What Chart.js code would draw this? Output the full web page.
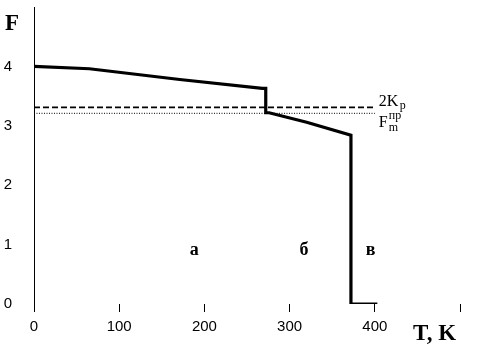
<!DOCTYPE html>
<html>
<head>
<meta charset="utf-8">
<script src="https://cdn.jsdelivr.net/npm/chart.js@4/dist/chart.umd.min.js"></script>
<style>
  html, body { margin:0; padding:0; background:#fff; }
  #wrap { width:481px; height:358px; position:relative; }
</style>
</head>
<body>
<div id="wrap"><canvas id="chart"></canvas></div>
<script>
// main curve F(T)
const tempT  = [0, 65, 171, 268, 272, 272, 276, 320, 372, 372, 403];
const valueF = [4.0, 3.96, 3.78, 3.63, 3.63, 3.22, 3.22, 3.06, 2.84, 0, 0];

// reference levels
const levelT  = [0, 400];
const level2K = [3.31, 3.31];
const levelFm = [3.21, 3.21];

const xTicks = [0, 100, 200, 300, 400, 500];
const regionLabels = [
  { text:'а', x:188, y:0.9 },
  { text:'б', x:317, y:0.9 },
  { text:'в', x:395, y:0.9 }
];

const serif = '"Liberation Serif", "DejaVu Serif", serif';
const sans  = '"Liberation Sans", Arial, sans-serif';

const toXY = (xs, ys) => xs.map((x, i) => ({ x, y: ys[i] }));

const textPlugin = {
  id:'texts',
  afterDraw(chart) {
    const { ctx, scales:{ x, y } } = chart;
    ctx.save();
    ctx.fillStyle = '#000';
    ctx.textBaseline = 'middle';

    ctx.font = 'bold 18px ' + serif;
    ctx.textAlign = 'center';
    regionLabels.forEach(l => {
      ctx.fillText(l.text, x.getPixelForValue(l.x), y.getPixelForValue(l.y));
    });

    // axis titles
    ctx.font = 'bold 23px ' + serif;
    ctx.textAlign = 'left';
    ctx.fillText('F', 5, 24);
    ctx.fillText('T, K', 413, 334);

    // level labels
    const lx = x.getPixelForValue(levelT[1]) + 4;
    ctx.font = '16px ' + serif;
    ctx.fillText('2K', lx, y.getPixelForValue(level2K[0]) - 6);
    ctx.font = '12px ' + serif;
    ctx.fillText('p', lx + 21, y.getPixelForValue(level2K[0]) - 2);

    ctx.font = '16px ' + serif;
    ctx.fillText('F', lx, y.getPixelForValue(levelFm[0]) + 9);
    ctx.font = '12px ' + serif;
    ctx.fillText('пр', lx + 10, y.getPixelForValue(levelFm[0]) + 3);
    ctx.fillText('m', lx + 10, y.getPixelForValue(levelFm[0]) + 15);
    ctx.restore();
  }
};

new Chart(document.getElementById('chart'), {
  type:'line',
  data:{
    datasets:[
      { data:toXY(tempT, valueF), borderColor:'#000', borderWidth:3.2, pointRadius:0, tension:0 },
      { data:toXY(levelT, level2K), borderColor:'#000', borderWidth:1.6, borderDash:[6,3], pointRadius:0 },
      { data:toXY(levelT, levelFm), borderColor:'#000', borderWidth:1, borderDash:[1,1.5], pointRadius:0 }
    ]
  },
  options:{
    responsive:true,
    maintainAspectRatio:false,
    animation:false,
    layout:{ padding:{ top:7, right:21, left:0, bottom:0 } },
    plugins:{ legend:{ display:false }, tooltip:{ enabled:false } },
    scales:{
      x:{
        type:'linear', min:0, max:500,
        afterBuildTicks: s => { s.ticks = xTicks.map(v => ({ value:v })); },
        afterFit: s => { s.height = 54; s.paddingLeft = 0; s.paddingRight = 0; },
        border:{ display:false },
        grid:{ display:true, drawOnChartArea:false, drawTicks:true, tickLength:8, color:'#000', lineWidth:1 },
        ticks:{
          color:'#000', padding:6, maxRotation:0,
          font:{ family:sans, size:15 },
          callback: v => v === 500 ? '' : String(v)
        }
      },
      y:{
        min:0, max:5,
        afterFit: s => { s.width = 34; s.paddingTop = 0; s.paddingBottom = 0; },
        border:{ display:true, color:'#000', width:1 },
        grid:{ display:false },
        ticks:{
          stepSize:1, color:'#000', padding:14,
          font:{ family:sans, size:15 },
          callback: v => v === 5 ? '' : String(v)
        }
      }
    }
  },
  plugins:[textPlugin]
});
</script>
</body>
</html>
